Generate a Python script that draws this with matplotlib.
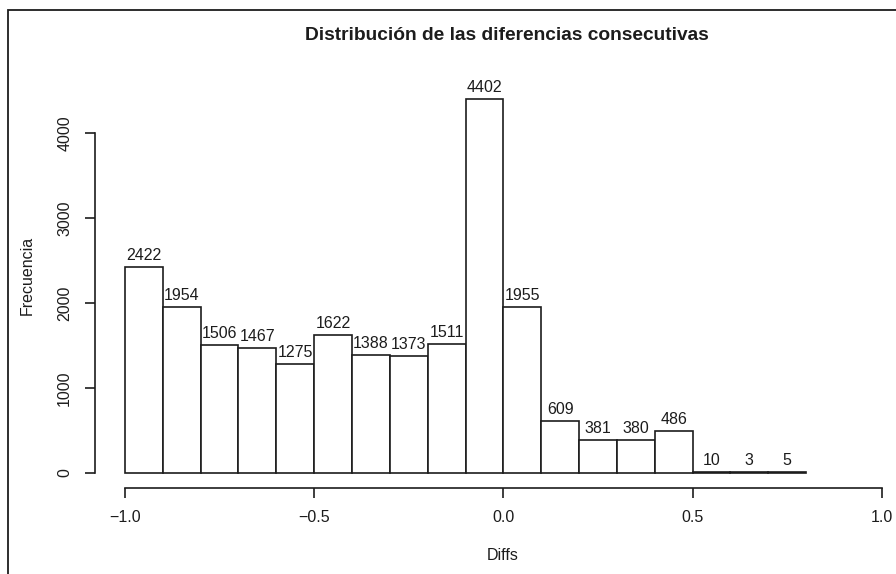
import matplotlib.pyplot as plt
from matplotlib.patches import Rectangle

# histogram of consecutive differences
bin_left = [-1.0, -0.9, -0.8, -0.7, -0.6, -0.5, -0.4, -0.3, -0.2,
            -0.1, 0.0, 0.1, 0.2, 0.3, 0.4, 0.5, 0.6, 0.7]
counts = [2422, 1954, 1506, 1467, 1275, 1622, 1388, 1373, 1511,
          4402, 1955, 609, 381, 380, 486, 10, 3, 5]
x_ticks = [-1.0, -0.5, 0.0, 0.5, 1.0]
y_ticks = [0, 1000, 2000, 3000, 4000]
bin_width = 0.1

plt.rcParams['font.family'] = ['Liberation Sans', 'DejaVu Sans']
ink = "#1c1c1c"

W, H = 896, 574
fig = plt.figure(figsize=(W / 100, H / 100), dpi=100)

# plot region in pixels (R style, 4% padding)
left, right, top, bottom = 94.7, 912.0, 84.4, 487.5
ax = fig.add_axes([left / W, 1 - bottom / H, (right - left) / W, (bottom - top) / H])
ax.patch.set_alpha(0)

ax.bar(bin_left, counts, width=bin_width, align='edge',
       facecolor='white', edgecolor=ink, linewidth=1.2)

for xl, c in zip(bin_left, counts):
    ax.annotate(str(c), (xl + bin_width / 2, c), xytext=(0, 3),
                textcoords='offset points', ha='center', va='bottom',
                fontsize=11.5, color=ink)

ax.set_xlim(-1.08, 1.08)
ax.set_ylim(-176, 4578)

for s in ['top', 'right']:
    ax.spines[s].set_visible(False)
ax.spines['bottom'].set_bounds(-1, 1)
ax.spines['left'].set_bounds(0, 4000)
for s in ['bottom', 'left']:
    ax.spines[s].set_color(ink)
    ax.spines[s].set_linewidth(1.2)

ax.set_xticks(x_ticks)
ax.set_xticklabels(["\u22121.0", "\u22120.5", "0.0", "0.5", "1.0"])
ax.set_yticks(y_ticks)
ax.set_yticklabels([str(v) for v in y_ticks], rotation=90, va='center')
ax.tick_params(axis='both', length=7.2, width=1.2, color=ink,
               labelsize=11.5, labelcolor=ink, pad=9)

fig.text(507 / W, 1 - 36 / H, "Distribución de las diferencias consecutivas",
         ha='center', va='center', fontsize=13.8, fontweight='bold', color=ink)
fig.text(503 / W, 1 - 556 / H, "Diffs", ha='center', va='center',
         fontsize=11.5, color=ink)
fig.text(27 / W, 1 - 275 / H, "Frecuencia", ha='center', va='center',
         rotation=90, fontsize=11.5, color=ink)

# outer frame (cut off at right and bottom)
fig.patches.append(Rectangle((8 / W, -0.1), 1.2, 1 - 10 / H + 0.1,
                             transform=fig.transFigure, fill=False,
                             edgecolor=ink, linewidth=1.3))

fig.savefig("out.png", dpi=100)
